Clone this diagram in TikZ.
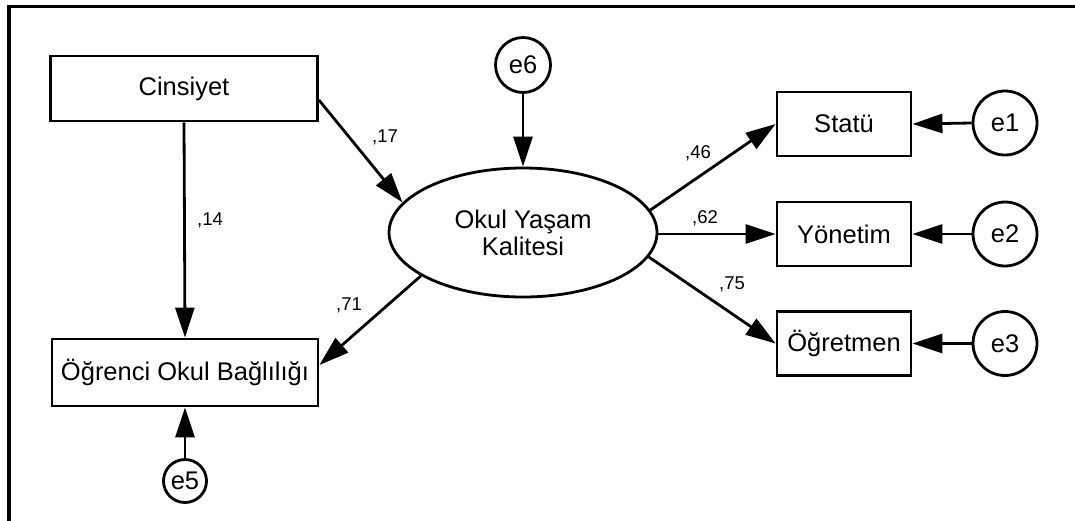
\documentclass[tikz,border=0pt]{standalone}
\usepackage{fontspec}
\setmainfont{Liberation Sans}
\usetikzlibrary{arrows.meta,shapes.geometric}
\tikzset{
  obsbox/.style={draw,line width=2.8pt,rectangle,inner sep=0pt,font=\fontsize{25.5}{30}\selectfont},
  errc/.style={draw,line width=2.8pt,circle,inner sep=0pt,font=\fontsize{25.5}{30}\selectfont},
  latent/.style={draw,line width=2.8pt,ellipse,inner sep=0pt,minimum width=268pt,minimum height=129pt,align=center,font=\fontsize{25.5}{27}\selectfont},
  coef/.style={inner sep=0pt,font=\fontsize{18.5}{22}\selectfont},
  path/.style={line width=2.8pt,-{Triangle[length=30pt,width=19pt]}}
}
\begin{document}
\begin{tikzpicture}[x=1pt,y=-1pt]
\useasboundingbox (0,0) rectangle (1075,520);
\clip (0,0) rectangle (1075,520);
\draw[line width=3.2pt] (9,6.5) rectangle (1100,560);

\node[obsbox,minimum width=267pt,minimum height=65pt] (cin) at (184,88.5) {Cinsiyet};
\node[obsbox,minimum width=266pt,minimum height=67pt] (obb) at (185,372.5) {Öğrenci Okul Bağlılığı};
\node[latent] (oyk) at (523,232.5) {Okul Yaşam\\Kalitesi};
\node[errc,minimum size=55pt] (e6) at (523,65) {e6};
\node[errc,minimum size=43pt] (e5) at (185,481) {e5};

\node[obsbox,minimum width=134pt,minimum height=64pt] (sta) at (844,124) {Statü};
\node[obsbox,minimum width=134pt,minimum height=64pt] (yon) at (844,234) {Yönetim};
\node[obsbox,minimum width=134pt,minimum height=64pt] (ogr) at (844,343.5) {Öğretmen};
\node[errc,minimum size=64pt] (e1) at (1005,123) {e1};
\node[errc,minimum size=64pt] (e2) at (1005,234) {e2};
\node[errc,minimum size=64pt] (e3) at (1005,343.5) {e3};

\draw[path] ([yshift=-11.5pt]cin.east) -- (oyk.166);
\draw[path] (cin.south) -- (obb.north);
\draw[path] (oyk.203) -- ([yshift=7.5pt]obb.east);
\draw[path] (e6.south) -- (oyk.north);
\draw[path] (e5.north) -- (obb.south);
\draw[path] (oyk.10) -- (sta.west);
\draw[path] (oyk.east |- yon.west) -- (yon.west);
\draw[path] (oyk.-11) -- (ogr.west);
\draw[path] (e1.west) -- (sta.east);
\draw[path] (e2.west) -- (yon.east);
\draw[path] (e3.west) -- (ogr.east);

\node[coef] (c17) at (385,137) {,17};
\node[coef] (c14) at (210,220) {,14};
\node[coef] (c71) at (349,305) {,71};
\node[coef] (c46) at (698,153) {,46};
\node[coef] (c62) at (705,218) {,62};
\node[coef] (c75) at (732,284) {,75};
\end{tikzpicture}
\end{document}
